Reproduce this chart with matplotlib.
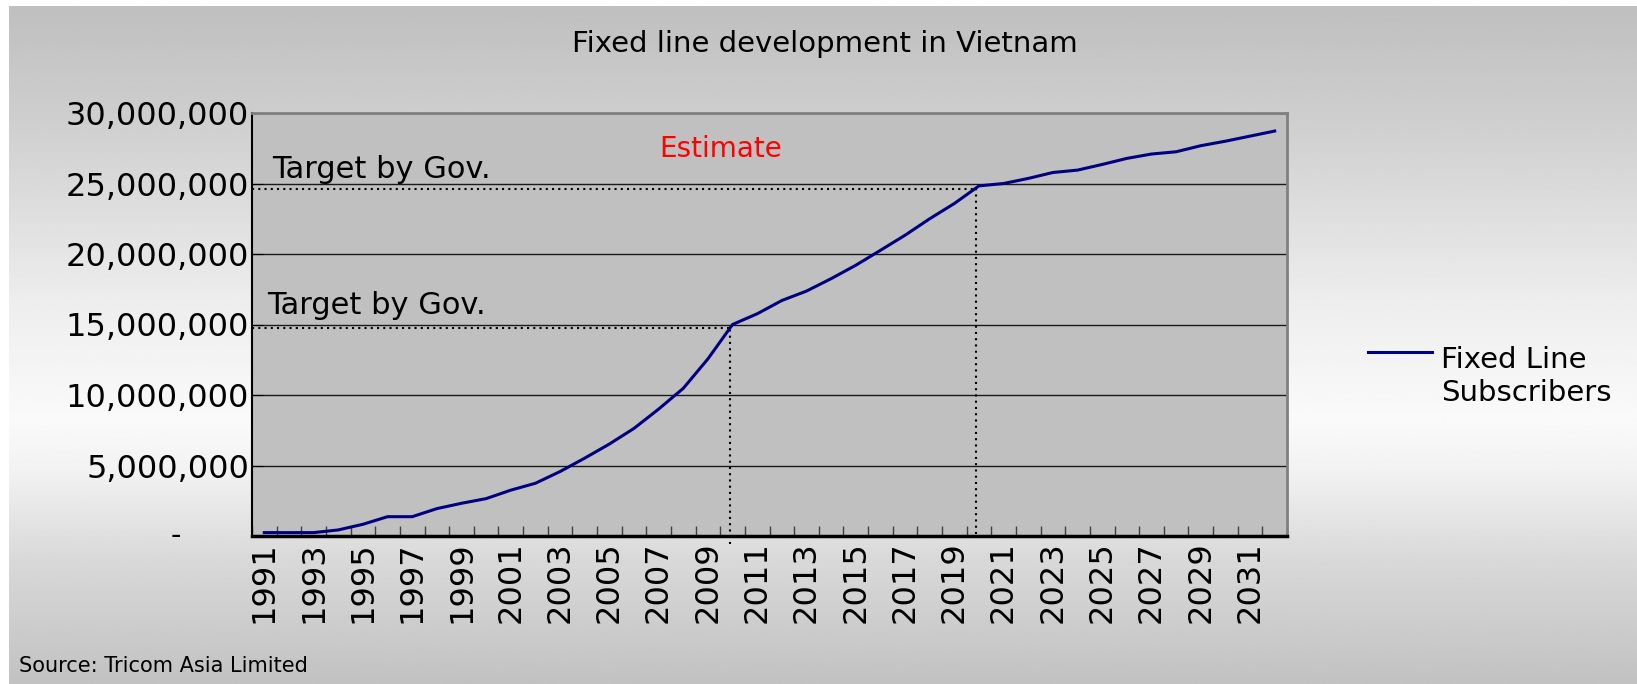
import numpy as np
import matplotlib
matplotlib.use("Agg")
import matplotlib.pyplot as plt
from matplotlib.ticker import FuncFormatter, FixedLocator
from matplotlib.legend_handler import HandlerLine2D

# data
years = list(range(1991, 2033))
subscribers = [
    0.24e6, 0.24e6, 0.24e6, 0.43e6, 0.83e6, 1.37e6, 1.37e6, 1.94e6, 2.32e6, 2.65e6,
    3.25e6, 3.74e6, 4.57e6, 5.52e6, 6.52e6, 7.63e6, 9.0e6, 10.47e6, 12.56e6, 15.0e6,
    15.76e6, 16.7e6, 17.37e6, 18.25e6, 19.2e6, 20.26e6, 21.33e6, 22.5e6, 23.58e6, 24.83e6,
    25.0e6, 25.36e6, 25.78e6, 25.95e6, 26.35e6, 26.78e6, 27.09e6, 27.25e6, 27.68e6, 28.0e6,
    28.36e6, 28.72e6,
]
target_years = [2010, 2020]
target_levels = [14.75e6, 24.6e6]
y_ticks = [0, 5e6, 10e6, 15e6, 20e6, 25e6, 30e6]

W, H = 1637, 684
fig = plt.figure(figsize=(W / 100, H / 100), dpi=100)
fig.patch.set_facecolor("white")

# vertical grey-white-grey gradient behind everything
bg = fig.add_axes([9 / W, 0, 1 - 9 / W, 1 - 6 / H], zorder=-10)
ys = np.linspace(6, H, 300)
shade = np.interp(ys, [6, 120, 300, 420, 470, 560, 684],
                  [0.75, 0.81, 0.93, 0.98, 0.95, 0.85, 0.76])
bg.imshow(np.repeat(shade[:, None], 2, axis=1), cmap="gray", vmin=0, vmax=1,
          aspect="auto", extent=[0, 1, 0, 1], interpolation="bilinear")
bg.set_axis_off()

ax = fig.add_axes([252 / W, 1 - 536 / H, (1287 - 252) / W, (536 - 113) / H])
ax.set_facecolor("#c0c0c0")

x = np.arange(len(years))
ax.plot(x, subscribers, color="#000080", lw=2.2, label="Fixed Line\nSubscribers", zorder=4)

ax.set_xlim(-0.5, len(years) - 0.5)
ax.set_ylim(0, 30e6)

# target markers
for ty, tl in zip(target_years, target_levels):
    i = years.index(ty)
    ax.plot([-0.5, i - 0.1], [tl, tl], color="black", lw=1.5, ls=(0, (1, 2)), zorder=3, clip_on=False)
    bottom = -0.6e6 if ty == 2010 else 0.15e6
    ax.plot([i - 0.1, i - 0.1], [bottom, subscribers[i]], color="black", lw=1.5, ls=(0, (1, 2)),
            zorder=3, clip_on=False)

ax.set_yticks(y_ticks)
ax.yaxis.set_major_formatter(FuncFormatter(lambda v, p: "" if v == 0 else f"{int(v):,}"))
ax.grid(axis="y", color="#1a1a1a", lw=1)
ax.set_axisbelow(True)
ax.tick_params(axis="y", direction="in", length=8, labelsize=23, pad=2)
ax.text(-0.074, 0, "-", transform=ax.get_yaxis_transform(), ha="center", va="center", fontsize=21)

label_idx = x[::2]
ax.set_xticks(label_idx)
ax.set_xticklabels([str(years[i]) for i in label_idx], rotation=90, fontsize=23)
ax.tick_params(axis="x", which="major", length=0, pad=4)
ax.xaxis.set_minor_locator(FixedLocator(np.arange(len(years) + 1) - 0.5))
ax.tick_params(axis="x", which="minor", direction="in", length=7, width=1, color="#404040")

for s in ["top", "right"]:
    ax.spines[s].set_color("#808080")
    ax.spines[s].set_linewidth(2)
ax.spines["left"].set_color("black")
ax.spines["left"].set_linewidth(1.5)
ax.spines["bottom"].set_color("black")
ax.spines["bottom"].set_linewidth(2.5)

ax.text(0.019, 0.866, "Target by Gov.", transform=ax.transAxes, fontsize=22, va="center", ha="left")
ax.text(0.0145, 0.546, "Target by Gov.", transform=ax.transAxes, fontsize=22, va="center", ha="left")
ax.text(0.453, 0.915, "Estimate", transform=ax.transAxes, fontsize=20, color="red", va="center", ha="center")


class FirstLineHandler(HandlerLine2D):
    def create_artists(self, legend, orig_handle, xdescent, ydescent, width, height, fontsize, trans):
        arts = super().create_artists(legend, orig_handle, xdescent, ydescent, width, height, fontsize, trans)
        for a in arts:
            yd = np.asarray(a.get_ydata(), dtype=float)
            a.set_ydata(yd + 0.62 * fontsize * 100 / 72)
        return arts


leg = ax.legend(loc="upper left", bbox_to_anchor=(1342 / W, 1 - 320 / H), bbox_transform=fig.transFigure,
                frameon=False, fontsize=21, handlelength=2.2, handletextpad=0.3,
                handler_map={plt.Line2D: FirstLineHandler()})

fig.text(825 / W, 1 - 44 / H, "Fixed line development in Vietnam", fontsize=21, ha="center", va="center")
fig.text(19 / W, 1 - 666 / H, "Source: Tricom Asia Limited", fontsize=15, ha="left", va="center")

fig.savefig("out.png", dpi=100, facecolor=fig.get_facecolor())
